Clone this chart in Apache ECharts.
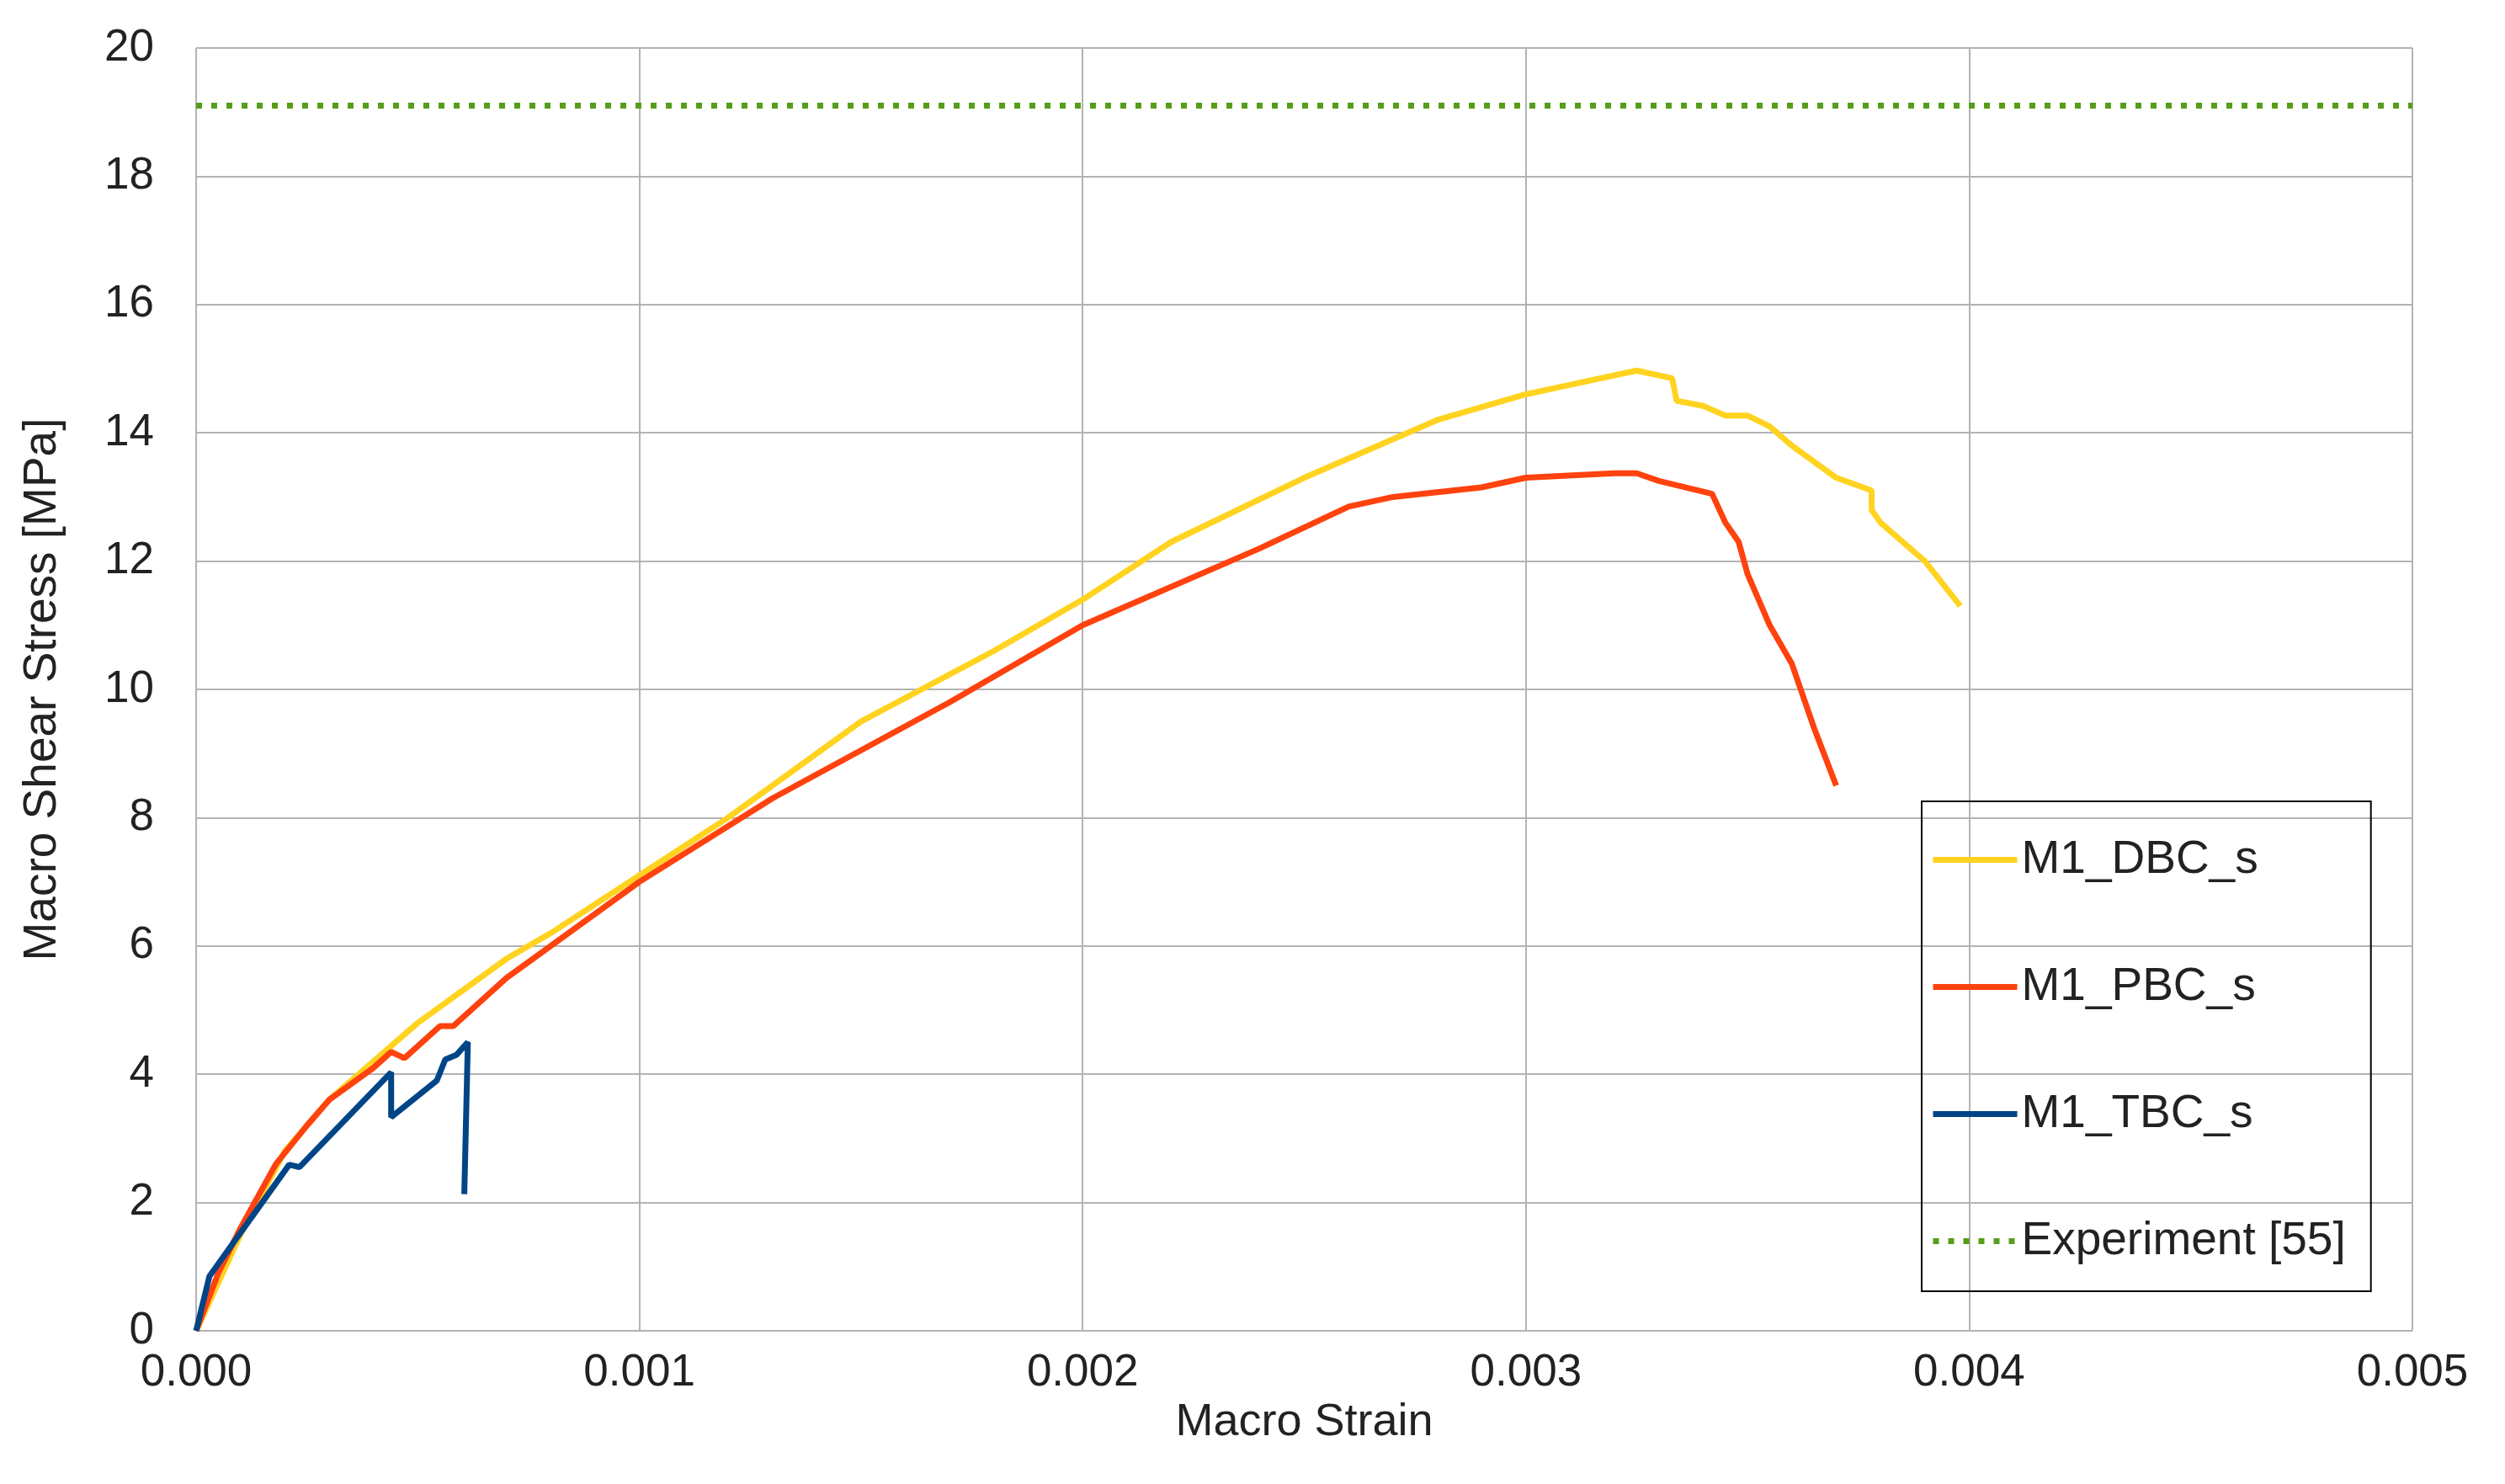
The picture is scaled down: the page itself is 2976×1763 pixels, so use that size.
<!DOCTYPE html>
<html>
<head>
<meta charset="utf-8">
<script src="https://cdn.jsdelivr.net/npm/echarts@6/dist/echarts.min.js"></script>
<style>html,body{margin:0;padding:0;background:#fff}#chart{width:2976px;height:1763px}</style>
</head>
<body>
<div id="chart"></div>
<script>
// strain / stress pairs
var dbcStrain = [0, 0.0001, 0.0002, 0.0003, 0.0004, 0.0005, 0.0006, 0.0007, 0.0008, 0.001, 0.0012, 0.0015, 0.0018, 0.002, 0.0022, 0.0025, 0.0028, 0.003, 0.0031, 0.00325, 0.00333, 0.00334, 0.0034, 0.00345, 0.0035, 0.00355, 0.0036, 0.0037, 0.00378, 0.00378, 0.0038, 0.0039, 0.00398];
var dbcStress = [0, 1.5, 2.8, 3.6, 4.2, 4.8, 5.3, 5.8, 6.2, 7.1, 8.0, 9.5, 10.6, 11.4, 12.3, 13.3, 14.2, 14.6, 14.75, 14.97, 14.85, 14.5, 14.42, 14.27, 14.27, 14.1, 13.8, 13.3, 13.1, 12.8, 12.6, 12.0, 11.3];

var pbcStrain = [0, 0.00005, 0.0001, 0.00018, 0.00025, 0.0003, 0.0004, 0.00044, 0.00047, 0.00055, 0.00058, 0.0007, 0.001, 0.0013, 0.0017, 0.002, 0.0024, 0.0026, 0.0027, 0.0029, 0.003, 0.0032, 0.00325, 0.0033, 0.00342, 0.00345, 0.00348, 0.0035, 0.00355, 0.0036, 0.00365, 0.0037];
var pbcStress = [0, 0.9, 1.6, 2.6, 3.2, 3.6, 4.1, 4.35, 4.25, 4.75, 4.75, 5.5, 7.0, 8.3, 9.8, 11.0, 12.2, 12.85, 13.0, 13.15, 13.3, 13.37, 13.37, 13.25, 13.05, 12.6, 12.3, 11.8, 11.0, 10.4, 9.4, 8.5];

var tbcStrain = [0, 0.00003, 0.00021, 0.000233, 0.00044, 0.00044, 0.000543, 0.000562, 0.000587, 0.000613, 0.000605];
var tbcStress = [0, 0.85, 2.59, 2.55, 4.03, 3.33, 3.9, 4.23, 4.3, 4.5, 2.13];

var expStrain = [0, 0.005];
var expStress = [19.1, 19.1];

function pairs(xs, ys) {
    var out = [];
    for (var i = 0; i < xs.length; i++) out.push([xs[i], ys[i]]);
    return out;
}

var font = 'Liberation Sans, Arial, sans-serif';
var gridLine = { show: true, lineStyle: { color: '#b3b3b3', width: 2 } };

var option = {
    backgroundColor: '#fff',
    animation: false,
    grid: { left: 233, right: 110, top: 57, bottom: 182 },
    legend: {
        orient: 'vertical',
        left: 2283, top: 952,
        padding: [42, 30, 32, 10],
        itemGap: 96,
        itemWidth: 100,
        itemHeight: 10,
        borderColor: '#000',
        borderWidth: 2,
        lineStyle: { width: 7 },
        itemStyle: { opacity: 0 },
        textStyle: { fontFamily: font, fontSize: 55, color: '#222' },
        data: ['M1_DBC_s', 'M1_PBC_s', 'M1_TBC_s', 'Experiment [55]']
    },
    xAxis: {
        type: 'value', min: 0, max: 0.005, interval: 0.001,
        name: 'Macro Strain', nameLocation: 'middle', nameGap: 82,
        nameTextStyle: { fontFamily: font, fontSize: 54, color: '#222' },
        axisLine: { show: false }, axisTick: { show: false },
        axisLabel: { fontFamily: font, fontSize: 53, color: '#222', margin: 24,
            formatter: function(v) { return v.toFixed(3); } },
        splitLine: gridLine
    },
    yAxis: {
        type: 'value', min: 0, max: 20, interval: 2,
        name: 'Macro Shear Stress [MPa]', nameLocation: 'middle', nameGap: 155,
        nameTextStyle: { fontFamily: font, fontSize: 55, color: '#222' },
        axisLine: { show: false }, axisTick: { show: false },
        axisLabel: { fontFamily: font, fontSize: 53, color: '#222', margin: 50 },
        splitLine: gridLine
    },
    series: [
        { name: 'M1_DBC_s', type: 'line', symbol: 'none', data: pairs(dbcStrain, dbcStress),
          color: '#ffd320', lineStyle: { width: 7, color: '#ffd320' } },
        { name: 'M1_PBC_s', type: 'line', symbol: 'none', data: pairs(pbcStrain, pbcStress),
          color: '#ff420e', lineStyle: { width: 7, color: '#ff420e' } },
        { name: 'M1_TBC_s', type: 'line', symbol: 'none', data: pairs(tbcStrain, tbcStress),
          color: '#004586', lineStyle: { width: 7, color: '#004586' } },
        { name: 'Experiment [55]', type: 'line', symbol: 'none', data: pairs(expStrain, expStress),
          color: '#579d1c', lineStyle: { width: 7, color: '#579d1c', type: [7, 11] } }
    ]
};

var myChart = echarts.init(document.getElementById('chart'));
myChart.setOption(option);
</script>
</body>
</html>
